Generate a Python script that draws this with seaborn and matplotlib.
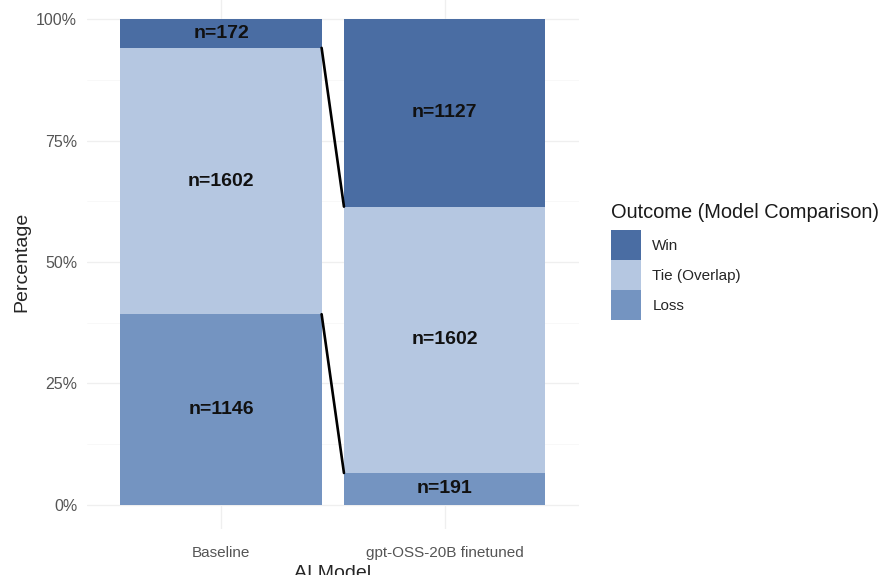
import pandas as pd
import seaborn as sns
import matplotlib.pyplot as plt
from matplotlib.patches import Patch

# data
models = ["Baseline", "gpt-OSS-20B finetuned"]
outcomes = ["Win", "Tie (Overlap)", "Loss"]
win_n = [172, 1127]
tie_n = [1602, 1602]
loss_n = [1146, 191]
colors = {"Win": "#4A6DA3", "Tie (Overlap)": "#B5C7E1", "Loss": "#7494C1"}

df = pd.DataFrame({"model": models, "Win": win_n, "Tie (Overlap)": tie_n, "Loss": loss_n})
df["total"] = df["Win"] + df["Tie (Overlap)"] + df["Loss"]
# cumulative tops of each stacked segment (Loss at the bottom)
df["loss_top"] = df["Loss"] / df["total"]
df["tie_top"] = (df["Loss"] + df["Tie (Overlap)"]) / df["total"]
df["win_top"] = df["total"] / df["total"]

sns.set_style("white")
plt.rcParams["font.family"] = ["Liberation Sans", "DejaVu Sans"]

fig = plt.figure(figsize=(8.82, 5.75), dpi=100)
ax = fig.add_axes([0.0986, 0.08, 0.5574, 0.9287])

# faint minimal-theme grid
for y in [0, 0.25, 0.5, 0.75, 1.0]:
    ax.axhline(y, color="#EFEFEF", lw=0.9, zorder=0)
for y in [0.125, 0.375, 0.625, 0.875]:
    ax.axhline(y, color="#F6F6F6", lw=0.5, zorder=0)
for x in [0, 1]:
    ax.axvline(x, color="#EFEFEF", lw=0.9, zorder=0)

# stacked bars drawn back to front
for col, outc in [("win_top", "Win"), ("tie_top", "Tie (Overlap)"), ("loss_top", "Loss")]:
    sns.barplot(data=df, x="model", y=col, color=colors[outc], saturation=1,
                width=0.9, linewidth=0, errorbar=None, ax=ax, zorder=2)

# connecting lines between segment boundaries
for col in ["tie_top", "loss_top"]:
    ax.plot([0.45, 0.55], [df[col][0], df[col][1]], color="black", lw=1.9, zorder=3)

# count labels in the middle of each segment
for i in range(len(models)):
    bottoms = [df["tie_top"][i], df["loss_top"][i], 0]
    tops = [df["win_top"][i], df["tie_top"][i], df["loss_top"][i]]
    for outc, b, t in zip(outcomes, bottoms, tops):
        ax.text(i, (b + t) / 2, f"n={df[outc][i]}", ha="center", va="center",
                fontsize=14, fontweight="bold", color="#111111", zorder=4)

ax.set_xlim(-0.6, 1.6)
ax.set_ylim(-0.05, 1.05)
ax.set_yticks([0, 0.25, 0.5, 0.75, 1.0])
ax.set_yticklabels(["0%", "25%", "50%", "75%", "100%"])
ax.tick_params(axis="y", length=0, pad=7, labelsize=11.5, labelcolor="#555555")
ax.tick_params(axis="x", length=0, pad=12, labelsize=11, labelcolor="#555555")
ax.set_xlabel("AI Model", fontsize=14, labelpad=4)
ax.set_ylabel("Percentage", fontsize=14, labelpad=4)
sns.despine(ax=ax, left=True, bottom=True)

# legend: title as separate text so the gap above the keys matches
fig.text(611 / 882, 1 - 213 / 575, "Outcome (Model Comparison)", fontsize=14.4,
         ha="left", va="center", color="#1A1A1A")
handles = [Patch(facecolor=colors[o], edgecolor="none") for o in outcomes]
fig.legend(handles, outcomes, loc="upper left",
           bbox_to_anchor=(611 / 882, 1 - 230 / 575), frameon=False, fontsize=11,
           handlelength=1.95, handleheight=2.65,
           handletextpad=0.75, labelspacing=0.0, borderpad=0, borderaxespad=0)

fig.savefig("out.png", dpi=100)
